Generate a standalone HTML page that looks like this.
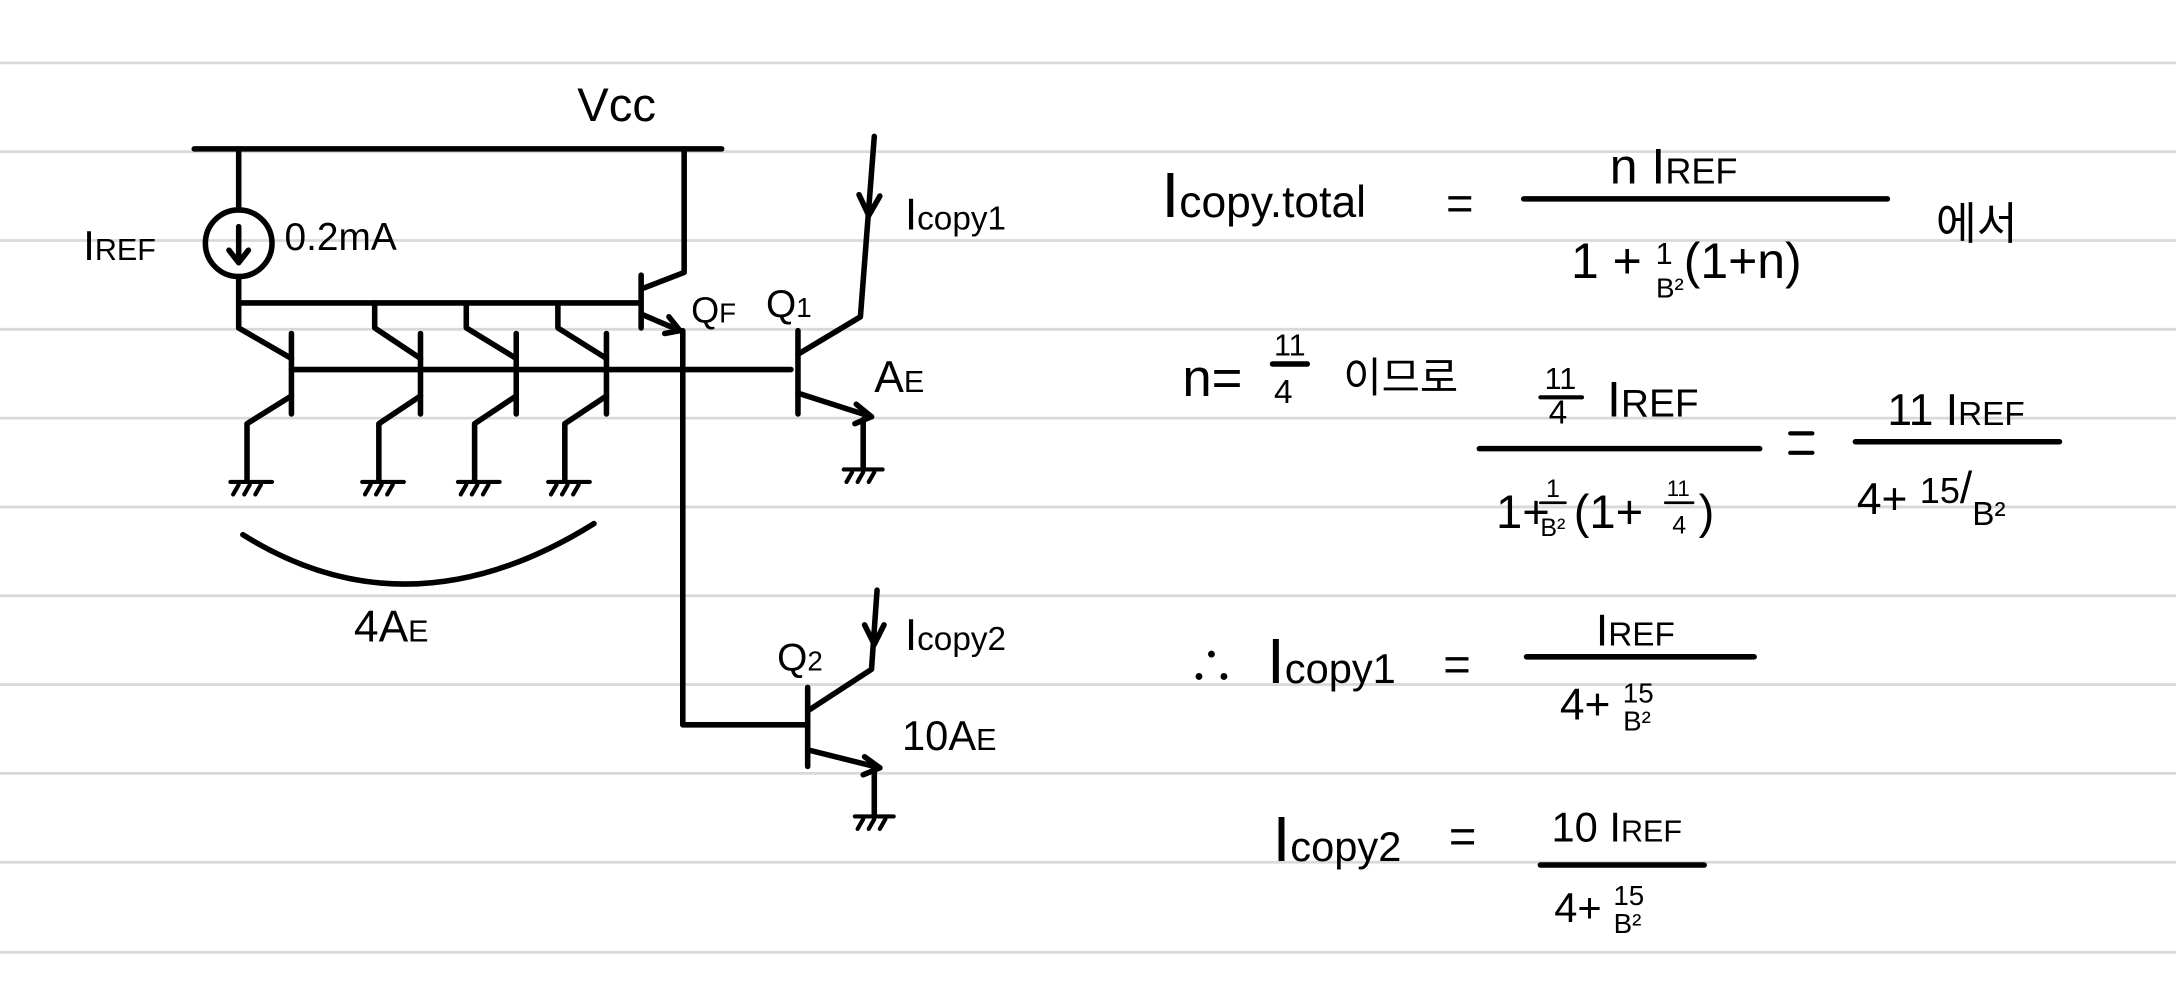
<!DOCTYPE html>
<html><head><meta charset="utf-8"><style>
html,body{margin:0;padding:0;background:#fff;}
svg{display:block;}
text{font-family:"Liberation Sans","Noto Sans CJK KR",sans-serif;fill:#000;}
</style></head><body>
<svg width="2176" height="1000" viewBox="0 0 1568 720" xmlns="http://www.w3.org/2000/svg">
<g stroke="#d9d9d9" stroke-width="2">
<line x1="0" y1="45" x2="1568" y2="45"/><line x1="0" y1="109" x2="1568" y2="109"/>
<line x1="0" y1="173" x2="1568" y2="173"/><line x1="0" y1="237" x2="1568" y2="237"/>
<line x1="0" y1="301" x2="1568" y2="301"/><line x1="0" y1="365" x2="1568" y2="365"/>
<line x1="0" y1="429" x2="1568" y2="429"/><line x1="0" y1="493" x2="1568" y2="493"/>
<line x1="0" y1="557" x2="1568" y2="557"/><line x1="0" y1="621" x2="1568" y2="621"/>
<line x1="0" y1="686" x2="1568" y2="686"/>
</g>
<g stroke="#000" stroke-width="4" fill="none" stroke-linecap="round" stroke-linejoin="round">
<line x1="140" y1="107" x2="520" y2="107"/>
<line x1="172" y1="107" x2="172" y2="151"/>
<circle cx="172" cy="175" r="24"/>
<line x1="172" y1="163" x2="172" y2="188"/><polyline points="165,180 172,189 179,180"/>
<line x1="172" y1="199" x2="172" y2="236"/>
<line x1="172" y1="218" x2="460" y2="218"/>
<line x1="493" y1="107" x2="493" y2="195"/>
<line x1="462" y1="198" x2="462" y2="236"/>
<polyline points="462,208 493,196"/>
<polyline points="462,226 490,238"/><polyline points="482,228 490,238 479,240"/>
<polyline points="492,238 492,522 582,522"/>
<line x1="210" y1="266" x2="570" y2="266"/>
<line x1="210" y1="240" x2="210" y2="298"/><polyline points="172,236 210,258"/><polyline points="210,285 178,305 178,345"/>
<line x1="303" y1="240" x2="303" y2="298"/><polyline points="270,218 270,236 303,258"/><polyline points="303,285 273,305 273,345"/>
<line x1="372" y1="240" x2="372" y2="298"/><polyline points="336,218 336,236 372,258"/><polyline points="372,285 342,305 342,345"/>
<line x1="437" y1="240" x2="437" y2="298"/><polyline points="402,218 402,236 437,258"/><polyline points="437,285 407,305 407,345"/>
<g stroke-width="3">
<line x1="166" y1="347" x2="196" y2="347"/><line x1="172" y1="349" x2="168" y2="356"/><line x1="180" y1="349" x2="176" y2="356"/><line x1="188" y1="349" x2="184" y2="356"/>
<line x1="261" y1="347" x2="291" y2="347"/><line x1="267" y1="349" x2="263" y2="356"/><line x1="275" y1="349" x2="271" y2="356"/><line x1="283" y1="349" x2="279" y2="356"/>
<line x1="330" y1="347" x2="360" y2="347"/><line x1="336" y1="349" x2="332" y2="356"/><line x1="344" y1="349" x2="340" y2="356"/><line x1="352" y1="349" x2="348" y2="356"/>
<line x1="395" y1="347" x2="425" y2="347"/><line x1="401" y1="349" x2="397" y2="356"/><line x1="409" y1="349" x2="405" y2="356"/><line x1="417" y1="349" x2="413" y2="356"/>
<line x1="608" y1="338" x2="636" y2="338"/><line x1="614" y1="340" x2="610" y2="347"/><line x1="622" y1="340" x2="618" y2="347"/><line x1="630" y1="340" x2="626" y2="347"/>
<line x1="616" y1="588" x2="644" y2="588"/><line x1="622" y1="590" x2="618" y2="597"/><line x1="630" y1="590" x2="626" y2="597"/><line x1="638" y1="590" x2="634" y2="597"/>
</g>
<path d="M175,385 Q295,460 428,377"/>
<line x1="575" y1="238" x2="575" y2="298"/>
<polyline points="575,255 620,228 630,98"/><polyline points="619,140 626,155 634,141"/>
<polyline points="575,283 628,300"/><polyline points="617,291 628,300 616,305"/>
<line x1="622" y1="302" x2="622" y2="336"/>
<line x1="582" y1="495" x2="582" y2="552"/>
<polyline points="582,512 628,482 632,425"/><polyline points="623,450 630,464 637,450"/>
<polyline points="582,540 634,553"/><polyline points="623,545 634,553 622,558"/>
<line x1="630" y1="555" x2="630" y2="586"/>
<line x1="1098" y1="143" x2="1360" y2="143"/>
<line x1="917" y1="262" x2="942" y2="262"/>
<line x1="1066" y1="323" x2="1268" y2="323"/>
<line x1="1337" y1="318" x2="1484" y2="318"/>
<line x1="1100" y1="473" x2="1264" y2="473"/>
<line x1="1110" y1="623" x2="1228" y2="623"/>
<line x1="1110" y1="286" x2="1140" y2="286" stroke-width="3"/>
<line x1="1110" y1="362" x2="1128" y2="362" stroke-width="2"/>
<line x1="1200" y1="362" x2="1220" y2="362" stroke-width="2"/>
<line x1="1290" y1="312" x2="1306" y2="312" stroke-width="3"/><line x1="1290" y1="326" x2="1306" y2="326" stroke-width="3"/>
</g>
<g font-size="34">
<text x="416" y="87">Vcc</text>
<text x="60" y="187" font-size="30">I<tspan font-size="22">REF</tspan></text>
<text x="205" y="180" font-size="28">0.2mA</text>
<text x="498" y="232" font-size="26">Q<tspan font-size="20">F</tspan></text>
<text x="552" y="228" font-size="28">Q<tspan font-size="20">1</tspan></text>
<text x="652" y="165" font-size="32">I<tspan font-size="24">copy1</tspan></text>
<text x="630" y="282" font-size="32">A<tspan font-size="22">E</tspan></text>
<text x="255" y="462" font-size="32">4A<tspan font-size="22">E</tspan></text>
<text x="560" y="483" font-size="28">Q<tspan font-size="20">2</tspan></text>
<text x="652" y="468" font-size="32">I<tspan font-size="24">copy2</tspan></text>
<text x="650" y="540" font-size="30">10A<tspan font-size="22">E</tspan></text>
<text x="837" y="156" font-size="46">I<tspan font-size="32">copy.total</tspan></text>
<text x="1042" y="158">=</text>
<text x="1160" y="132" font-size="36">n I<tspan font-size="26">REF</tspan></text>
<text x="1132" y="200" font-size="36">1 + <tspan font-size="22" dy="-10">1</tspan><tspan font-size="20" dx="-12" dy="24">B²</tspan><tspan dy="-14">(1+n)</tspan></text>
<text x="1395" y="172" font-size="32">에서</text>
<text x="852" y="285" font-size="38">n=</text>
<text x="918" y="256" font-size="22">11</text>
<text x="918" y="290" font-size="24">4</text>
<text x="968" y="282" font-size="30">이므로</text>
<text x="1113" y="280" font-size="22">11</text>
<text x="1116" y="305" font-size="24">4</text>
<text x="1158" y="300" font-size="36">I<tspan font-size="28">REF</tspan></text>
<text x="1078" y="380" font-size="34">1+</text>
<text x="1114" y="358" font-size="18">1</text>
<text x="1110" y="386" font-size="18">B²</text>
<text x="1134" y="380" font-size="34">(1+</text>
<text x="1201" y="357" font-size="16">11</text>
<text x="1205" y="384" font-size="18">4</text>
<text x="1224" y="380" font-size="34">)</text>
<text x="1360" y="306" font-size="32">11 I<tspan font-size="24">REF</tspan></text>
<text x="1338" y="370" font-size="32">4+  <tspan font-size="26" dy="-8">15</tspan><tspan>/</tspan><tspan font-size="24" dy="16">B²</tspan></text>
<text x="856" y="492" font-size="34">∴</text>
<text x="913" y="492" font-size="46">I<tspan font-size="30">copy1</tspan></text>
<text x="1040" y="490">=</text>
<text x="1150" y="465" font-size="32">I<tspan font-size="24">REF</tspan></text>
<text x="1124" y="518" font-size="32">4+ <tspan font-size="20" dy="-12">15</tspan><tspan font-size="20" dx="-22" dy="20">B²</tspan></text>
<text x="917" y="620" font-size="46">I<tspan font-size="30">copy2</tspan></text>
<text x="1044" y="614">=</text>
<text x="1118" y="606" font-size="30">10 I<tspan font-size="22">REF</tspan></text>
<text x="1120" y="664" font-size="30">4+ <tspan font-size="20" dy="-12">15</tspan><tspan font-size="20" dx="-22" dy="20">B²</tspan></text>
</g>
</svg>
</body></html>
